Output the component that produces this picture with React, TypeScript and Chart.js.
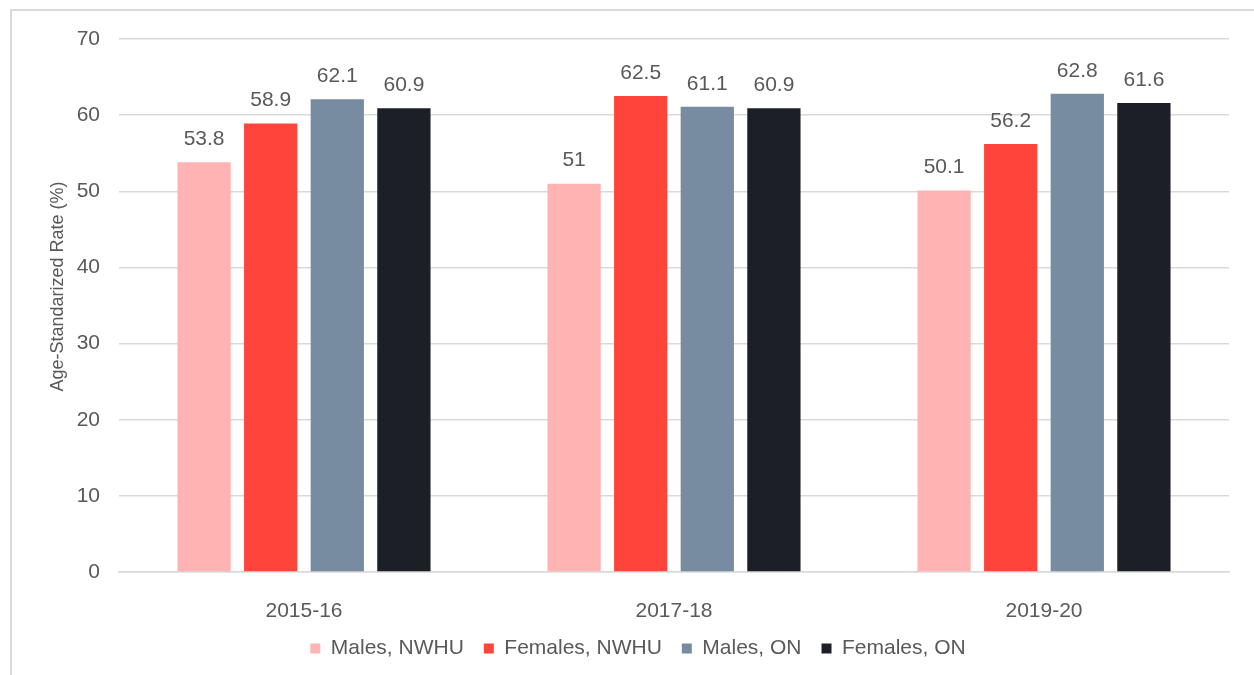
import React, { useEffect, useRef } from "react";
import { Chart, registerables } from "chart.js";

Chart.register(...registerables);

const categories = ["2015-16", "2017-18", "2019-20"];
const seriesNames = ["Males, NWHU", "Females, NWHU", "Males, ON", "Females, ON"];
const malesNWHU = [53.8, 51, 50.1];
const femalesNWHU = [58.9, 62.5, 56.2];
const malesON = [62.1, 61.1, 62.8];
const femalesON = [60.9, 60.9, 61.6];
const seriesColors = ["#FFB3B3", "#FF443B", "#778CA1", "#1C1F26"];
const yTicks = [0, 10, 20, 30, 40, 50, 60, 70];
const yTitle = "Age-Standarized Rate (%)";

const FONT = "'Liberation Sans', Arial, sans-serif";
const TEXT = "#595959";

const valueLabels = {
  id: "valueLabels",
  afterDatasetsDraw(chart: any) {
    const ctx = chart.ctx;
    ctx.save();
    ctx.font = `21px ${FONT}`;
    ctx.fillStyle = TEXT;
    ctx.textAlign = "center";
    ctx.textBaseline = "middle";
    chart.data.datasets.forEach((ds: any, i: number) => {
      const meta = chart.getDatasetMeta(i);
      meta.data.forEach((bar: any, j: number) => {
        ctx.fillText(String(ds.data[j]), bar.x, bar.y - 23);
      });
    });
    // y-axis title
    const area = chart.chartArea;
    ctx.translate(58, (area.top + area.bottom) / 2 - 19);
    ctx.rotate(-Math.PI / 2);
    ctx.font = `18px ${FONT}`;
    ctx.fillText(yTitle, 0, 0);
    ctx.restore();
  },
};

export default function App() {
  const ref = useRef<HTMLCanvasElement>(null);
  useEffect(() => {
    if (!ref.current) return;
    const seriesData = [malesNWHU, femalesNWHU, malesON, femalesON];
    const chart = new Chart(ref.current, {
      type: "bar",
      data: {
        labels: categories,
        datasets: seriesNames.map((name, i) => ({
          label: name,
          data: seriesData[i],
          backgroundColor: seriesColors[i],
          borderWidth: 0,
          categoryPercentage: 0.72,
          barPercentage: 0.8,
        })),
      },
      options: {
        responsive: false,
        animation: false,
        maintainAspectRatio: false,
        layout: { padding: { left: 47, right: 25, top: 39, bottom: 6 } },
        plugins: {
          tooltip: { enabled: false },
          legend: {
            position: "bottom",
            labels: {
              font: { family: FONT, size: 21 },
              color: TEXT,
              boxWidth: 10,
              boxHeight: 10,
              padding: 20,
            },
          },
        },
        scales: {
          x: {
            grid: { display: false, drawTicks: false },
            border: { display: true, color: "#D9D9D9", width: 1.5 },
            ticks: { font: { family: FONT, size: 21 }, color: TEXT, padding: 27 },
            afterFit: (axis: any) => {
              axis.height = 46;
            },
          },
          y: {
            min: 0,
            max: 70,
            afterBuildTicks: (axis: any) => {
              axis.ticks = yTicks.map((v) => ({ value: v }));
            },
            grid: { color: "#D9D9D9", lineWidth: 1.5, drawTicks: false },
            border: { display: false },
            ticks: { font: { family: FONT, size: 21 }, color: TEXT, padding: 19 },
            title: { display: false, text: yTitle },
            afterFit: (axis: any) => {
              axis.width = 72;
            },
          },
        },
      },
      plugins: [valueLabels],
    });
    return () => chart.destroy();
  }, []);
  return (
    <div style={{ position: "fixed", left: 0, top: 0, width: 1254, height: 675, background: "#fff" }}>
      <div
        style={{
          position: "absolute",
          left: 10,
          top: 9,
          width: 1260,
          height: 700,
          borderLeft: "2px solid #D9D9D9",
          borderTop: "2px solid #D9D9D9",
        }}
      />
      <canvas ref={ref} width={1254} height={675} style={{ position: "absolute", left: 0, top: 0 }} />
    </div>
  );
}
